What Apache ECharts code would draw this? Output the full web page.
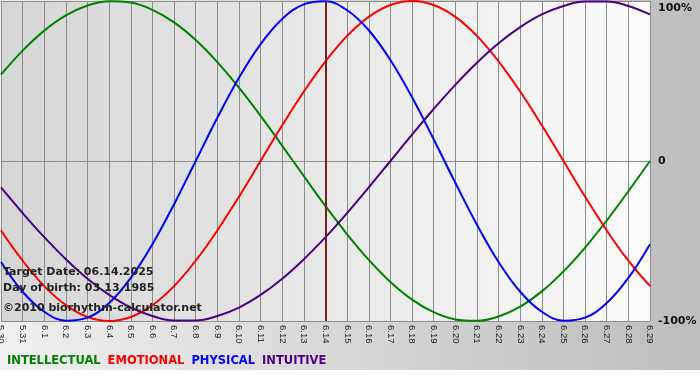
<!DOCTYPE html>
<html><head><meta charset="utf-8">
<script src="https://cdn.jsdelivr.net/npm/echarts@6/dist/echarts.min.js"></script>
<style>html,body{margin:0;padding:0;background:#fff}#c{width:700px;height:380px}</style>
</head><body><div id="c"></div>
<script>
const dates = ['5.30','5.31','6.1','6.2','6.3','6.4','6.5','6.6','6.7','6.8','6.9','6.10','6.11','6.12','6.13','6.14','6.15','6.16','6.17','6.18','6.19','6.20','6.21','6.22','6.23','6.24','6.25','6.26','6.27','6.28','6.29'];
const intellectual = [0.54,0.69,0.815,0.91,0.972,0.999,0.99,0.945,0.866,0.756,0.618,0.458,0.282,0.095,-0.095,-0.282,-0.458,-0.618,-0.756,-0.866,-0.945,-0.99,-0.999,-0.972,-0.91,-0.815,-0.69,-0.541,-0.372,-0.189,0];
const emotional = [-0.434,-0.623,-0.782,-0.901,-0.975,-1,-0.975,-0.901,-0.782,-0.623,-0.434,-0.223,0,0.223,0.434,0.623,0.782,0.901,0.975,1,0.975,0.901,0.782,0.623,0.434,0.223,0,-0.223,-0.434,-0.623,-0.782];
const physical = [-0.631,-0.817,-0.942,-0.998,-0.979,-0.888,-0.731,-0.52,-0.27,0,0.27,0.52,0.731,0.888,0.979,0.998,0.942,0.817,0.631,0.398,0.136,-0.136,-0.398,-0.631,-0.817,-0.942,-0.998,-0.979,-0.888,-0.731,-0.52];
const intuitive = [-0.165,-0.325,-0.476,-0.614,-0.736,-0.837,-0.916,-0.969,-0.997,-0.997,-0.969,-0.916,-0.837,-0.736,-0.614,-0.476,-0.325,-0.165,0,0.165,0.325,0.476,0.614,0.736,0.837,0.916,0.969,0.997,0.997,0.969,0.916];
const yTicks = {'1':'100%','0':'0','-1':'-100%'};
const targetDate = '6.14';
const infoLines = ['Target Date: 06.14.2025','Day of birth: 03.13.1985','\u00a92010 biorhythm-calculator.net'];

const names = ['INTELLECTUAL','EMOTIONAL','PHYSICAL','INTUITIVE'];
const colors = ['#008000','#ff0000','#0000ff','#4b0082'];
const values = [intellectual, emotional, physical, intuitive];

const chart = echarts.init(document.getElementById('c'), null, {renderer:'canvas'});
const FONT = 'DejaVu Sans';
chart.setOption({
  animation:false,
  backgroundColor:'transparent',
  graphic:[
    {type:'rect', z:-10, silent:true, shape:{x:0,y:0,width:700,height:370},
     style:{fill:new echarts.graphic.LinearGradient(0,0,1,0,[{offset:0,color:'#f0f0f0'},{offset:1,color:'#bdbdbd'}])}},
    {type:'text', left:3, top:267, z:100, style:{text:infoLines[0], font:'bold 11px "DejaVu Sans"', fill:'#222'}},
    {type:'text', left:3, top:283, z:100, style:{text:infoLines[1], font:'bold 11px "DejaVu Sans"', fill:'#222'}},
    {type:'text', left:3, top:303, z:100, style:{text:infoLines[2], font:'bold 11px "DejaVu Sans"', fill:'#222'}}
  ],
  legend:{
    left:2, top:355, padding:0, icon:'none', itemWidth:0, itemHeight:0, itemGap:2,
    selectedMode:false,
    data:names.map((n,i)=>({name:n, textStyle:{color:colors[i]}})),
    textStyle:{fontFamily:FONT, fontWeight:'bold', fontSize:11.5}
  },
  grid:{left:1, right:50, top:1, bottom:59, show:true, borderWidth:0, containLabel:false, outerBoundsMode:'none',
    backgroundColor:new echarts.graphic.LinearGradient(0,0,1,0,[{offset:0,color:'#d6d6d6'},{offset:1,color:'#fbfbfb'}])},
  xAxis:{
    type:'category', data:dates, boundaryGap:false,
    axisLine:{show:false},
    axisTick:{show:true, length:3, lineStyle:{color:'#888'}},
    splitLine:{show:true, interval:0, lineStyle:{color:'#8c8c8c', width:1}},
    axisLabel:{interval:0, rotate:-90, margin:4, fontFamily:'Liberation Sans', fontSize:9.5, color:'#1a1a1a', hideOverlap:false}
  },
  yAxis:{
    type:'value', min:-1, max:1, interval:1, position:'right',
    axisLine:{show:false}, axisTick:{show:false},
    splitLine:{lineStyle:{color:'#8c8c8c', width:1}},
    axisLabel:{margin:8, fontFamily:FONT, fontWeight:'bold', fontSize:11, color:'#111',
      formatter:v=> v===1 ? '{t|'+yTicks['1']+'}' : yTicks[String(v)],
      rich:{t:{padding:[14,0,0,0], fontFamily:FONT, fontWeight:'bold', fontSize:11, color:'#111'}}}
  },
  series:values.map((d,i)=>({
    name:names[i], type:'line', data:d, smooth:0.4, showSymbol:false,
    lineStyle:{color:colors[i], width:2}, itemStyle:{color:colors[i]},
    markLine: i===0 ? {silent:true, symbol:'none', label:{show:false},
      lineStyle:{color:'#7a1f1f', width:2, type:'solid'}, data:[{xAxis:targetDate}]} : undefined
  }))
});
</script></body></html>
